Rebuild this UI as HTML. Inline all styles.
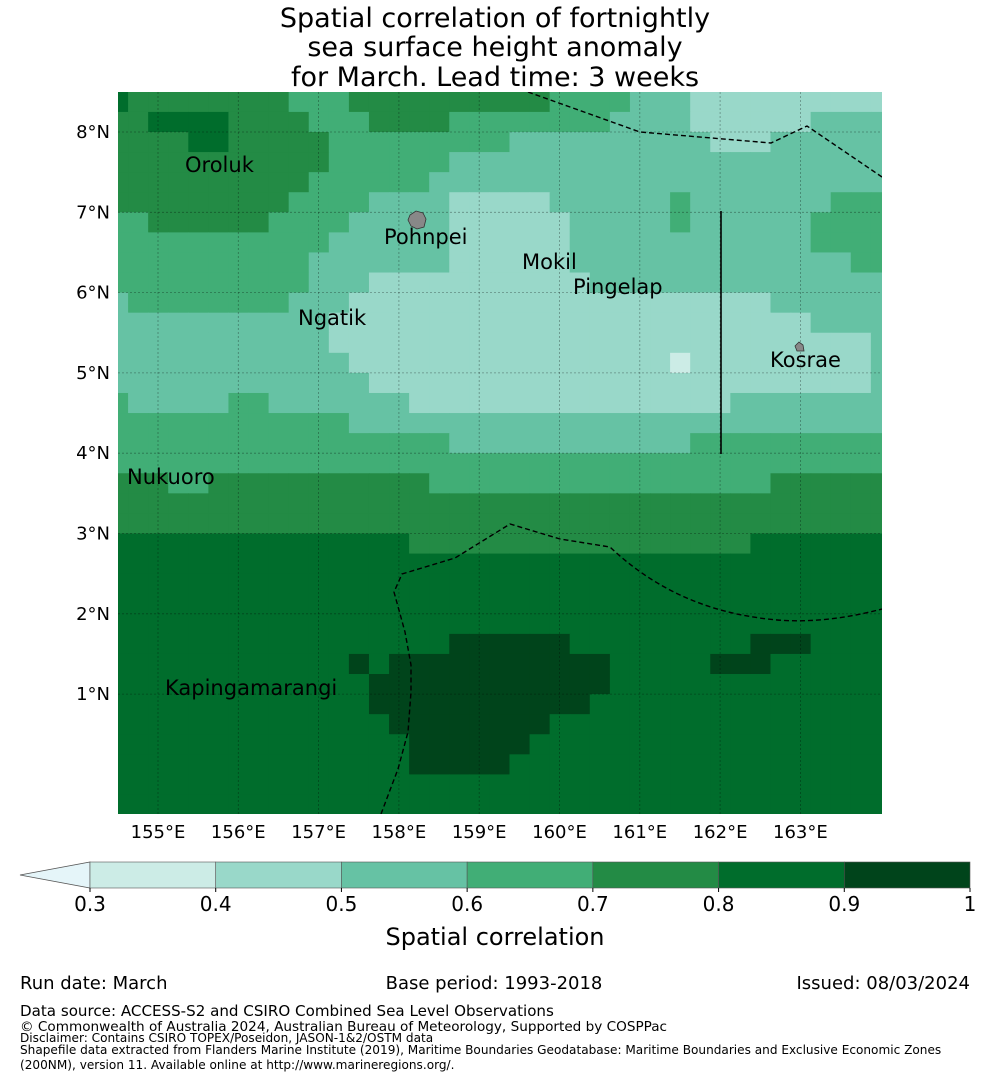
<!DOCTYPE html>
<html><head><meta charset="utf-8">
<style>
html,body{margin:0;padding:0;background:#fff;}
body{width:990px;height:1080px;overflow:hidden;font-family:"DejaVu Sans","Liberation Sans",sans-serif;}
svg text{font-family:"DejaVu Sans","Liberation Sans",sans-serif;}
</style></head>
<body>
<svg id="chart" width="990" height="1080" viewBox="0 0 990 1080" xmlns="http://www.w3.org/2000/svg">
  <g font-size="27" text-anchor="middle" fill="#000">
    <text x="495" y="27">Spatial correlation of fortnightly</text>
    <text x="495" y="56">sea surface height anomaly</text>
    <text x="495" y="86">for March. Lead time: 3 weeks</text>
  </g>
  <defs><clipPath id="mapclip"><rect x="118" y="92" width="764" height="722"/></clipPath></defs>
  <g id="cells" clip-path="url(#mapclip)"></g>
  <g id="grid"></g>
  <g fill="none" stroke="#000" stroke-width="1.4" stroke-dasharray="5,3" clip-path="url(#mapclip)">
    <polyline points="528,92 640,132 771,143 807,126 882,177"/>
    <path d="M381,814 L398,769 L408,732 L411,692 L411,665 L405,632 L394,592 L402,574 L455,558 L510,524 L560,539 L610,547 C650,585 700,610 760,618 C800,624 840,620 882,609"/>
  </g>
  <line x1="721" y1="211" x2="721" y2="454" stroke="#000" stroke-width="1.6"/>
  <g fill="#888" stroke="#333" stroke-width="0.8">
    <path d="M410,215 L416,211 L423,213 L426,219 L424,227 L417,229 L411,226 L408,220 Z"/>
    <path d="M795,346 L799,342 L803,345 L804,351 L797,351 Z"/>
  </g>
  <g font-size="21" fill="#000">
    <text x="185" y="172">Oroluk</text>
    <text x="384" y="244">Pohnpei</text>
    <text x="522" y="269">Mokil</text>
    <text x="573" y="294">Pingelap</text>
    <text x="298" y="325">Ngatik</text>
    <text x="770" y="367">Kosrae</text>
    <text x="127" y="484">Nukuoro</text>
    <text x="165" y="695">Kapingamarangi</text>
  </g>
  <g id="axes" font-size="18" fill="#000"></g>
  <g id="colorbar"></g>
  <text x="495" y="945" font-size="24" text-anchor="middle">Spatial correlation</text>
  <g fill="#000">
    <text x="20" y="989" font-size="18">Run date: March</text>
    <text x="494" y="989" font-size="18" text-anchor="middle">Base period: 1993-2018</text>
    <text x="970" y="989" font-size="18" text-anchor="end">Issued: 08/03/2024</text>
    <text x="20" y="1016" font-size="15.1">Data source: ACCESS-S2 and CSIRO Combined Sea Level Observations</text>
    <text x="20" y="1031" font-size="13.6">© Commonwealth of Australia 2024, Australian Bureau of Meteorology, Supported by COSPPac</text>
    <text x="20" y="1042" font-size="12.1">Disclaimer: Contains CSIRO TOPEX/Poseidon, JASON-1&amp;2/OSTM data</text>
    <text x="20" y="1054" font-size="12.1">Shapefile data extracted from Flanders Marine Institute (2019), Maritime Boundaries Geodatabase: Maritime Boundaries and Exclusive Economic Zones</text>
    <text x="20" y="1069" font-size="12.1">(200NM), version 11. Available online at http://www.marineregions.org/.</text>
  </g>
</svg>
<script>
// correlation classes per grid row, run-length encoded "class:count" (class d means d/10..(d+1)/10)
const rowRuns = [
"8:1,7:8,6:3,7:10,6:4,5:3,4:10",
"7:2,8:4,7:4,6:3,7:4,6:8,5:4,4:6,5:4",
"7:4,8:2,7:5,6:9,5:10,4:3,5:6",
"7:11,6:6,5:22",
"7:10,6:6,5:23",
"7:9,6:4,5:4,4:5,5:6,6:1,5:7,6:3",
"6:2,7:6,6:4,5:5,4:6,5:5,6:1,5:6,6:4",
"6:11,5:6,4:6,5:12,6:4",
"6:10,5:7,4:6,5:14,6:2",
"6:10,5:3,4:11,5:15",
"5:1,6:8,5:3,4:21,5:6",
"5:11,4:24,5:4",
"5:11,4:27,5:1",
"5:12,4:16,3:1,4:9,5:1",
"5:13,4:25,5:1",
"6:1,5:5,6:2,5:7,4:16,5:8",
"6:12,5:27",
"6:17,5:12,6:10",
"6:39",
"7:3,6:2,7:11,6:17,7:6",
"7:39",
"7:39",
"8:15,7:17,8:7",
"8:39","8:39","8:39","8:39",
"8:17,9:6,8:9,9:3,8:4",
"8:12,9:1,8:1,9:11,8:5,9:3,8:6",
"8:13,9:12,8:14",
"8:13,9:11,8:15",
"8:14,9:8,8:17",
"8:15,9:6,8:18",
"8:15,9:5,8:19",
"8:39","8:39","8:39"
];
const classBounds = [0.3,0.4,0.5,0.6,0.7,0.8,0.9,1.0];
const classColors = ["#ccece6","#99d8c9","#66c2a4","#41ae76","#238b45","#006d2c","#00441b"];
const lonTicks = [155,156,157,158,159,160,161,162,163];
const latTicks = [1,2,3,4,5,6,7,8];

const NS = "http://www.w3.org/2000/svg";
function mk(tag, attrs, parent){const e=document.createElementNS(NS,tag);for(const k in attrs)e.setAttribute(k,attrs[k]);parent.appendChild(e);return e;}
const xLon = lon => 158 + 80.3*(lon-155);
const yLat = lat => 132 + 80.3*(8-lat);
const cellW = 80.3/4;
const xCol = c => xLon(155) - 50 + cellW*c;
const yRow = r => yLat(8.5) + cellW*r;
function colorFor(v){for(let i=0;i<classColors.length;i++){if(v<classBounds[i+1])return classColors[i];}return classColors[classColors.length-1];}

const cellsG = document.getElementById('cells');
rowRuns.forEach((row,r)=>{
  let c=0;
  row.split(',').forEach(run=>{
    const [d,n]=run.split(':').map(Number);
    const v=(d+0.5)/10;
    for(let k=0;k<n;k++){
      const rect=mk('rect',{x:xCol(c).toFixed(2),y:yRow(r).toFixed(2),width:(cellW+0.6).toFixed(2),height:(cellW+0.6).toFixed(2),fill:colorFor(v)},cellsG);
      
      
      c++;
    }
  });
});

const gridG = document.getElementById('grid');
const axesG = document.getElementById('axes');
lonTicks.forEach(lon=>{
  const x=xLon(lon);
  const l=mk('line',{x1:x,y1:92,x2:x,y2:814,stroke:'#000','stroke-opacity':0.35,'stroke-width':0.8,'stroke-dasharray':'2,2'},gridG);
  
  
  const t=mk('text',{x:x,y:838,'text-anchor':'middle'},axesG);
  t.textContent=lon+'°E';
  
  
});
latTicks.forEach(lat=>{
  const y=yLat(lat);
  const l=mk('line',{x1:118,y1:y,x2:882,y2:y,stroke:'#000','stroke-opacity':0.35,'stroke-width':0.8,'stroke-dasharray':'2,2'},gridG);
  
  
  const t=mk('text',{x:110,y:y+6,'text-anchor':'end'},axesG);
  t.textContent=lat+'°N';
  
  
});

const cb = document.getElementById('colorbar');
const cbX0=90, cbX1=970, cbY=862, cbH=26;
const cbScale = v => cbX0 + (v-0.3)/0.7*(cbX1-cbX0);
const tri=mk('polygon',{points:`20,${cbY+cbH/2} ${cbX0},${cbY} ${cbX0},${cbY+cbH}`,fill:'#e5f5f9',stroke:'#555','stroke-width':0.8},cb);


classColors.forEach((col,i)=>{
  const x0=cbScale(classBounds[i]), x1=cbScale(classBounds[i+1]);
  const r=mk('rect',{x:x0,y:cbY,width:x1-x0,height:cbH,fill:col,stroke:'#555','stroke-width':0.6},cb);
  
  
});
classBounds.forEach(v=>{
  const x=cbScale(v);
  mk('line',{x1:x,y1:cbY+cbH,x2:x,y2:cbY+cbH+4,stroke:'#000'},cb);
  const t=mk('text',{x:x,y:911,'text-anchor':'middle','font-size':20},cb);
  t.textContent = v===1 ? '1' : v.toFixed(1);
  
  
});
</script>
</body></html>
